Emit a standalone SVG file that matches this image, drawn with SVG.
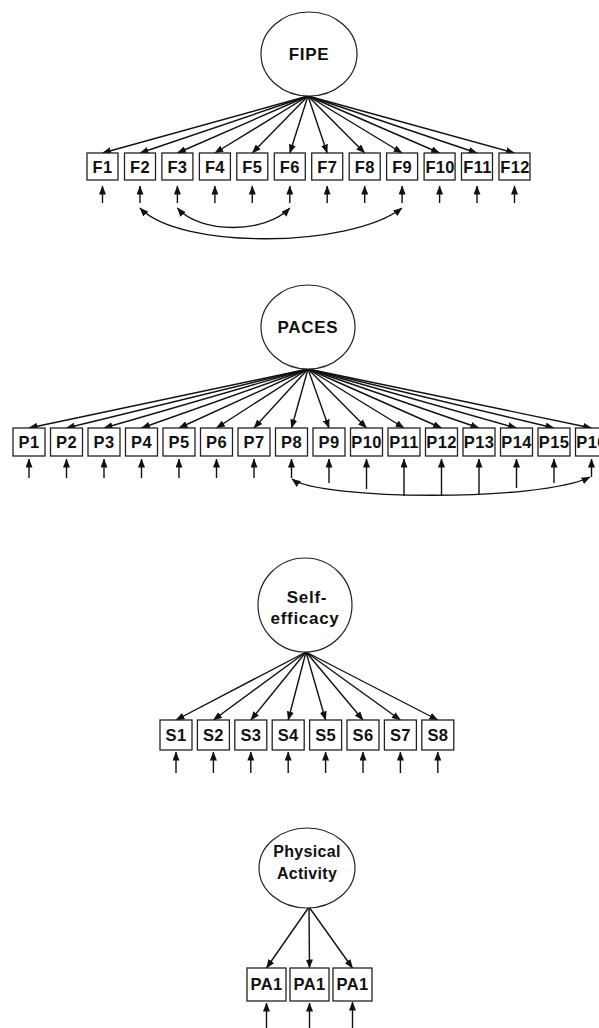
<svg xmlns="http://www.w3.org/2000/svg" width="599" height="1028" viewBox="0 0 599 1028">
<defs>
<marker id="ah" markerUnits="userSpaceOnUse" markerWidth="9" markerHeight="7" refX="8.5" refY="3.5" orient="auto-start-reverse">
<path d="M0,0 L9,3.5 L0,7 z" fill="#111"/>
</marker>
</defs>
<style>
.lat{fill:#fff;stroke:#222;stroke-width:1.2}
.box{fill:#fff;stroke:#222;stroke-width:1.3}
.lbl{font-family:"Liberation Sans",Arial,sans-serif;font-weight:bold;font-size:16.5px;fill:#111;text-anchor:middle;letter-spacing:0.3px}
.big{font-family:"Liberation Sans",Arial,sans-serif;font-weight:bold;font-size:17px;fill:#111;text-anchor:middle;letter-spacing:0.7px}
.big2{font-family:"Liberation Sans",Arial,sans-serif;font-weight:bold;font-size:16px;fill:#111;text-anchor:middle;letter-spacing:0.3px}
.ld{stroke:#111;stroke-width:1.4;fill:none;marker-end:url(#ah)}
.er{stroke:#111;stroke-width:1.4;fill:none;marker-end:url(#ah)}
.cv{stroke:#111;stroke-width:1.3;fill:none;marker-start:url(#ah);marker-end:url(#ah)}
</style>
<rect width="599" height="1028" fill="#fff"/>

<!-- connectors -->
<g id="connectors">
<!-- FIPE loadings -->
<line class="ld" x1="308" y1="96" x2="102.5" y2="153"/>
<line class="ld" x1="308" y1="96" x2="140" y2="153"/>
<line class="ld" x1="308" y1="96" x2="177.4" y2="153"/>
<line class="ld" x1="308" y1="96" x2="214.9" y2="153"/>
<line class="ld" x1="308" y1="96" x2="252.3" y2="153"/>
<line class="ld" x1="308" y1="96" x2="289.8" y2="153"/>
<line class="ld" x1="308" y1="96" x2="327.2" y2="153"/>
<line class="ld" x1="308" y1="96" x2="364.7" y2="153"/>
<line class="ld" x1="308" y1="96" x2="402.1" y2="153"/>
<line class="ld" x1="308" y1="96" x2="439.6" y2="153"/>
<line class="ld" x1="308" y1="96" x2="477" y2="153"/>
<line class="ld" x1="308" y1="96" x2="514.5" y2="153"/>
<!-- FIPE errors -->
<line class="er" x1="102.5" y1="203" x2="102.5" y2="186"/>
<line class="er" x1="140" y1="203" x2="140" y2="186"/>
<line class="er" x1="177.4" y1="203" x2="177.4" y2="186"/>
<line class="er" x1="214.9" y1="203" x2="214.9" y2="186"/>
<line class="er" x1="252.3" y1="203" x2="252.3" y2="186"/>
<line class="er" x1="289.8" y1="203" x2="289.8" y2="186"/>
<line class="er" x1="327.2" y1="203" x2="327.2" y2="186"/>
<line class="er" x1="364.7" y1="203" x2="364.7" y2="186"/>
<line class="er" x1="402.1" y1="203" x2="402.1" y2="186"/>
<line class="er" x1="439.6" y1="203" x2="439.6" y2="186"/>
<line class="er" x1="477" y1="203" x2="477" y2="186"/>
<line class="er" x1="514.5" y1="203" x2="514.5" y2="186"/>
<!-- FIPE error covariances -->
<path class="cv" d="M140,208 C180,250 350,248 402,208"/>
<path class="cv" d="M177.4,208 C200,234 265,234 289.8,208"/>

<!-- PACES loadings -->
<line class="ld" x1="308" y1="369" x2="29" y2="428"/>
<line class="ld" x1="308" y1="369" x2="66.5" y2="428"/>
<line class="ld" x1="308" y1="369" x2="104" y2="428"/>
<line class="ld" x1="308" y1="369" x2="141.5" y2="428"/>
<line class="ld" x1="308" y1="369" x2="179" y2="428"/>
<line class="ld" x1="308" y1="369" x2="216.5" y2="428"/>
<line class="ld" x1="308" y1="369" x2="254" y2="428"/>
<line class="ld" x1="308" y1="369" x2="291.5" y2="428"/>
<line class="ld" x1="308" y1="369" x2="329" y2="428"/>
<line class="ld" x1="308" y1="369" x2="366.5" y2="428"/>
<line class="ld" x1="308" y1="369" x2="404" y2="428"/>
<line class="ld" x1="308" y1="369" x2="441.5" y2="428"/>
<line class="ld" x1="308" y1="369" x2="479" y2="428"/>
<line class="ld" x1="308" y1="369" x2="516.5" y2="428"/>
<line class="ld" x1="308" y1="369" x2="554" y2="428"/>
<line class="ld" x1="308" y1="369" x2="591.5" y2="428"/>
<!-- PACES errors -->
<line class="er" x1="29" y1="478" x2="29" y2="459"/>
<line class="er" x1="66.5" y1="478" x2="66.5" y2="459"/>
<line class="er" x1="104" y1="478" x2="104" y2="459"/>
<line class="er" x1="141.5" y1="478" x2="141.5" y2="459"/>
<line class="er" x1="179" y1="478" x2="179" y2="459"/>
<line class="er" x1="216.5" y1="478" x2="216.5" y2="459"/>
<line class="er" x1="254" y1="478" x2="254" y2="459"/>
<line class="er" x1="291.5" y1="478" x2="291.5" y2="459"/>
<line class="er" x1="329" y1="483" x2="329" y2="459"/>
<line class="er" x1="366.5" y1="489" x2="366.5" y2="459"/>
<line class="er" x1="404" y1="496" x2="404" y2="459"/>
<line class="er" x1="441.5" y1="496" x2="441.5" y2="459"/>
<line class="er" x1="479" y1="494" x2="479" y2="459"/>
<line class="er" x1="516.5" y1="488" x2="516.5" y2="459"/>
<line class="er" x1="554" y1="483" x2="554" y2="459"/>
<line class="er" x1="591.5" y1="477" x2="591.5" y2="459"/>
<!-- PACES error covariance -->
<path class="cv" d="M292,479 C320,500 540,502 590,477"/>

<!-- Self-efficacy loadings -->
<line class="ld" x1="306" y1="652" x2="176" y2="720"/>
<line class="ld" x1="306" y1="652" x2="213.4" y2="720"/>
<line class="ld" x1="306" y1="652" x2="250.8" y2="720"/>
<line class="ld" x1="306" y1="652" x2="288.2" y2="720"/>
<line class="ld" x1="306" y1="652" x2="325.6" y2="720"/>
<line class="ld" x1="306" y1="652" x2="363" y2="720"/>
<line class="ld" x1="306" y1="652" x2="400.4" y2="720"/>
<line class="ld" x1="306" y1="652" x2="437.8" y2="720"/>
<!-- Self-efficacy errors -->
<line class="er" x1="176" y1="773" x2="176" y2="752"/>
<line class="er" x1="213.4" y1="773" x2="213.4" y2="752"/>
<line class="er" x1="250.8" y1="773" x2="250.8" y2="752"/>
<line class="er" x1="288.2" y1="773" x2="288.2" y2="752"/>
<line class="er" x1="325.6" y1="773" x2="325.6" y2="752"/>
<line class="er" x1="363" y1="773" x2="363" y2="752"/>
<line class="er" x1="400.4" y1="773" x2="400.4" y2="752"/>
<line class="er" x1="437.8" y1="773" x2="437.8" y2="752"/>

<!-- Physical Activity loadings -->
<line class="ld" x1="309" y1="907" x2="266.5" y2="968"/>
<line class="ld" x1="309" y1="907" x2="309.5" y2="968"/>
<line class="ld" x1="309" y1="907" x2="352.5" y2="968"/>
<!-- Physical Activity errors -->
<line class="er" x1="266.5" y1="1028" x2="266.5" y2="1003"/>
<line class="er" x1="309.5" y1="1028" x2="309.5" y2="1003"/>
<line class="er" x1="352.5" y1="1028" x2="352.5" y2="1002"/>
</g>

<!-- latent: FIPE -->
<g id="FIPE">
<ellipse class="lat" cx="309" cy="54" rx="48" ry="42"/>
<text class="big" x="309" y="60">FIPE</text>
</g>
<g id="F1"><rect class="box" x="87" y="153" width="31" height="27"/><text class="lbl" x="102.5" y="172.5">F1</text></g>
<g id="F2"><rect class="box" x="124.5" y="153" width="31" height="27"/><text class="lbl" x="140" y="172.5">F2</text></g>
<g id="F3"><rect class="box" x="161.9" y="153" width="31" height="27"/><text class="lbl" x="177.4" y="172.5">F3</text></g>
<g id="F4"><rect class="box" x="199.4" y="153" width="31" height="27"/><text class="lbl" x="214.9" y="172.5">F4</text></g>
<g id="F5"><rect class="box" x="236.8" y="153" width="31" height="27"/><text class="lbl" x="252.3" y="172.5">F5</text></g>
<g id="F6"><rect class="box" x="274.3" y="153" width="31" height="27"/><text class="lbl" x="289.8" y="172.5">F6</text></g>
<g id="F7"><rect class="box" x="311.7" y="153" width="31" height="27"/><text class="lbl" x="327.2" y="172.5">F7</text></g>
<g id="F8"><rect class="box" x="349.2" y="153" width="31" height="27"/><text class="lbl" x="364.7" y="172.5">F8</text></g>
<g id="F9"><rect class="box" x="386.6" y="153" width="31" height="27"/><text class="lbl" x="402.1" y="172.5">F9</text></g>
<g id="F10"><rect class="box" x="424.1" y="153" width="31" height="27"/><text class="lbl" x="440.1" y="172.5">F10</text></g>
<g id="F11"><rect class="box" x="461.5" y="153" width="31" height="27"/><text class="lbl" x="477.5" y="172.5">F11</text></g>
<g id="F12"><rect class="box" x="499" y="153" width="31" height="27"/><text class="lbl" x="515" y="172.5">F12</text></g>

<!-- latent: PACES -->
<g id="PACES">
<ellipse class="lat" cx="308" cy="327" rx="47" ry="42"/>
<text class="big" x="308" y="333">PACES</text>
</g>
<g id="P1"><rect class="box" x="13" y="428" width="32" height="28"/><text class="lbl" x="29" y="448">P1</text></g>
<g id="P2"><rect class="box" x="50.5" y="428" width="32" height="28"/><text class="lbl" x="66.5" y="448">P2</text></g>
<g id="P3"><rect class="box" x="88" y="428" width="32" height="28"/><text class="lbl" x="104" y="448">P3</text></g>
<g id="P4"><rect class="box" x="125.5" y="428" width="32" height="28"/><text class="lbl" x="141.5" y="448">P4</text></g>
<g id="P5"><rect class="box" x="163" y="428" width="32" height="28"/><text class="lbl" x="179" y="448">P5</text></g>
<g id="P6"><rect class="box" x="200.5" y="428" width="32" height="28"/><text class="lbl" x="216.5" y="448">P6</text></g>
<g id="P7"><rect class="box" x="238" y="428" width="32" height="28"/><text class="lbl" x="254" y="448">P7</text></g>
<g id="P8"><rect class="box" x="275.5" y="428" width="32" height="28"/><text class="lbl" x="291.5" y="448">P8</text></g>
<g id="P9"><rect class="box" x="313" y="428" width="32" height="28"/><text class="lbl" x="329" y="448">P9</text></g>
<g id="P10"><rect class="box" x="350.5" y="428" width="32" height="28"/><text class="lbl" x="366.5" y="448">P10</text></g>
<g id="P11"><rect class="box" x="388" y="428" width="32" height="28"/><text class="lbl" x="404" y="448">P11</text></g>
<g id="P12"><rect class="box" x="425.5" y="428" width="32" height="28"/><text class="lbl" x="441.5" y="448">P12</text></g>
<g id="P13"><rect class="box" x="463" y="428" width="32" height="28"/><text class="lbl" x="479" y="448">P13</text></g>
<g id="P14"><rect class="box" x="500.5" y="428" width="32" height="28"/><text class="lbl" x="516.5" y="448">P14</text></g>
<g id="P15"><rect class="box" x="538" y="428" width="32" height="28"/><text class="lbl" x="554" y="448">P15</text></g>
<g id="P16"><rect class="box" x="575.5" y="428" width="32" height="28"/><text class="lbl" x="591.5" y="448">P16</text></g>

<!-- latent: Self-efficacy -->
<g id="SelfEfficacy">
<ellipse class="lat" cx="305" cy="605" rx="47" ry="47"/>
<text class="big" x="307" y="603">Self-</text>
<text class="big" x="305" y="624">efficacy</text>
</g>
<g id="S1"><rect class="box" x="160" y="720" width="32" height="30"/><text class="lbl" x="176" y="741">S1</text></g>
<g id="S2"><rect class="box" x="197.4" y="720" width="32" height="30"/><text class="lbl" x="213.4" y="741">S2</text></g>
<g id="S3"><rect class="box" x="234.8" y="720" width="32" height="30"/><text class="lbl" x="250.8" y="741">S3</text></g>
<g id="S4"><rect class="box" x="272.2" y="720" width="32" height="30"/><text class="lbl" x="288.2" y="741">S4</text></g>
<g id="S5"><rect class="box" x="309.6" y="720" width="32" height="30"/><text class="lbl" x="325.6" y="741">S5</text></g>
<g id="S6"><rect class="box" x="347" y="720" width="32" height="30"/><text class="lbl" x="363" y="741">S6</text></g>
<g id="S7"><rect class="box" x="384.4" y="720" width="32" height="30"/><text class="lbl" x="400.4" y="741">S7</text></g>
<g id="S8"><rect class="box" x="421.8" y="720" width="32" height="30"/><text class="lbl" x="437.8" y="741">S8</text></g>

<!-- latent: Physical Activity -->
<g id="PhysicalActivity">
<ellipse class="lat" cx="307" cy="868" rx="48" ry="40"/>
<text class="big2" x="307" y="857">Physical</text>
<text class="big2" x="307" y="879">Activity</text>
</g>
<g id="PA1a"><rect class="box" x="247" y="968" width="39" height="33"/><text class="lbl" x="266.5" y="990">PA1</text></g>
<g id="PA1b"><rect class="box" x="290" y="968" width="39" height="33"/><text class="lbl" x="309.5" y="990">PA1</text></g>
<g id="PA1c"><rect class="box" x="333" y="968" width="39" height="33"/><text class="lbl" x="352.5" y="990">PA1</text></g>
</svg>
